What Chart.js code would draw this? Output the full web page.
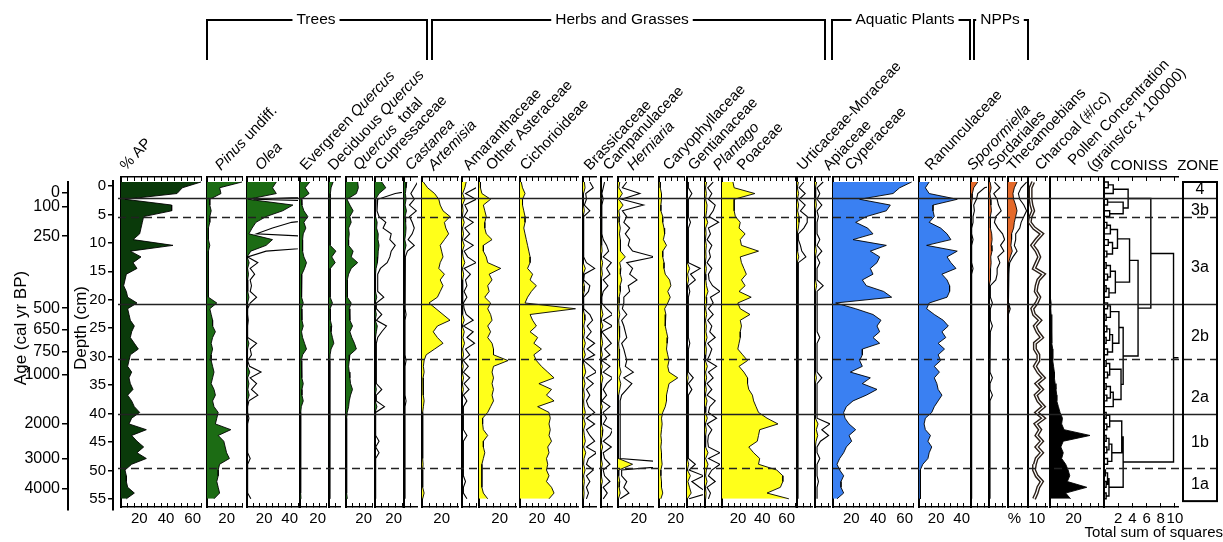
<!DOCTYPE html>
<html>
<head>
<meta charset="utf-8">
<title>Pollen diagram</title>
<script src="https://cdn.jsdelivr.net/npm/chart.js@4.4.0/dist/chart.umd.min.js"></script>
<style>
  body { margin: 0; background: #fff; }
  #wrap { position: relative; width: 1223px; height: 542px; overflow: hidden; background: #fff; }
  #wrap canvas { position: absolute; }
</style>
</head>
<body>
<div id="wrap"></div>
<script>
// sample depths (cm)
const depths = [0,1,2,3,4,5,6,7,8,9,10,11,12,13,14,15,16,17,18,19,20,21,22,23,24,25,26,27,28,29,
  30,31,32,33,34,35,36,37,38,39,40,41,42,43,44,45,46,47,48,49,50,51,52,53,54,55];

// percentages, one value per depth
const apPct = [60,46,42,3,38,38,17,16,15,14, 9,39,7,15,9,12,4,3,2,4, 5,12,5,6,7,10,8,7,10,13,
  7,6,5,8,6,7,9,5,8,10, 14,8,6,19,8,12,17,12,19,8, 3,4,4,5,10,4];
const pinus = [25,9,10,2,2,3,2,2,1,1, 1,2,1,1,1,1,1,1,1,1, 1,7,2,3,4,4,6,4,3,4,
  3,3,4,5,4,3,5,6,4,5, 8,7,6,17,8,12,13,14,16,9, 8,8,7,8,9,5];
const olea = [23,20,23,1,36,28,15,7,4,1.5, 20,15,3,0.1,1.7,0.5,1.2,0.5,0.7,0.5, 1.5,0.5,0.1,0.1,0.2,0.1,0.1,0.1,1.5,0.5,
  0.7,0.1,0.4,2.2,0.5,1.5,0.7,1.7,0.3,0.1, 0.1,0.3,0.1,0.1,0.1,0.1,0.1,0.1,0.5,0.1, 0.1,0.1,0.1,0.1,0.1,0.6];
const evQuercus = [7.5,4,7,1,1.5,3,6,3,4.5,2.5, 2,2,2,3,5,3.5,1.5,1.5,1.2,1, 1.2,2.5,1.2,1.5,1.5,2.5,1.2,2,3.5,5,
  2,1,1.2,1.5,1.5,2.5,1.5,1.5,2.5,1, 0.6,0.5,0.5,0.5,0.5,0.5,0.5,0.5,0.5,0.5, 0.5,0.5,0.5,0.6,0.5,0.8];
const decQuercus = [3,1.5,1,1.2,0.8,0.8,0.8,0.8,0.8,0.8, 0.8,0.8,5,2,4.5,1,0.8,0.8,0.8,0.8, 1,2.5,0.8,0.8,1.2,2,1.5,2.5,3.5,1.5,
  0.8,0.7,0.7,0.7,0.7,0.7,0.7,0.7,0.7,0.7, 0.5,0.5,0.5,0.5,0.5,0.5,0.5,0.5,0.5,0.5, 0.5,0.5,0.5,0.5,0.5,0.5];
const quercusTot = [9,9.5,8,0.8,3,5.5,3,4,2,2.5, 2,2,5.5,4,9,4,2,1,1,1, 1.2,4,2.5,3,3,5,3,4.5,6.5,8,
  3,2.5,2,2.5,3,3.5,5,3.5,2.5,2, 1,0.5,0.5,0.5,0.5,0.5,0.5,0.5,0.5,0.5, 0.5,0.5,0.5,0.5,0.5,1];
const cupress = [5,8,3,0.4,0.3,0.3,0.6,1.6,1.2,2.4, 2.2,3,2.4,2.2,1.8,0.8,0.4,0.4,0.4,0.4, 1.3,0.2,0.2,1,0.2,1.7,1,0.4,0.2,0.2,
  0.2,0.2,0.2,0.2,0.2,0.2,1,0.2,0.2,1.4, 0.1,0.1,0.1,0.1,0.1,0.6,0.1,0.6,0.1,0.1, 0.1,0.1,0.1,0.1,0.1,0.1];
const castanea = [2,1.5,1,1.5,0.8,1.8,0.8,1.2,1.5,1.2, 0.6,1.5,0.5,0.2,0.2,0.15,0.15,0.2,0.15,0.15, 0.2,0.15,0.15,0.3,0.15,0.15,0.15,0.15,0.15,0.15,
  0.15,0.3,0.15,0.15,0.15,0.15,0.15,0.15,0.3,0.15, 0.15,0.15,0.15,0.15,0.15,0.15,0.15,0.15,0.15,0.15, 0.15,0.15,0.15,0.15,0.15,0.15];
const artemisia = [1,4,9,12,13,15,20,16,17,19, 16,13,14,15,13,12,16,13,15,13, 11,5,10,15,20,11,8,11,15,9,
  3,1.5,1,1.5,0.8,1,0.8,1,1.5,1, 0.5,0.5,0.5,0.5,0.5,0.5,0.5,0.5,0.5,0.8, 0.5,0.5,0.5,0.5,1.5,0.5];
const amaranth = [3,2,0.5,2,0.4,0.8,0.3,1.6,0.4,1.1, 0.3,1.6,0.3,0.8,2,0.3,1.2,0.5,0.7,0.3, 0.7,0.2,0.3,0.6,1.6,0.2,1.6,0.7,1.8,0.5,
  1.1,0.2,0.9,0.2,1.1,0.3,1,0.2,0.7,0.2, 0.2,0.2,0.2,0.2,0.7,0.2,0.2,0.2,0.2,0.2, 0.2,0.2,0.5,0.2,0.2,0.7];
const otherAst = [1,1,2,8,3,4,5,4,4,5, 9,3,3,5,6,15,7,9,6,7, 4,8,6,8,9,6,8,6,9,10,
  10,20,10,9,10,9,10,9,10,8, 6,2.5,2.5,3,6,3,3,4,3,2, 2,2,2,2,3,6];
const cichor = [1,2,4,2,2,3,4,4,3,4, 5,6,7,8,8,6,10,8,13,9, 6,4,44,8,10,13,8,14,11,17,
  11,13,17,22,27,15,25,21,27,14, 23,24,23,24,23,25,22,23,21,22, 21,23,21,25,27,23];
const brassic = [1,1.5,0.4,0.5,0.2,1,0.1,0.1,0.1,0.1, 0.1,0.1,0.1,0.1,0.5,1.7,0.2,0.1,1,0.8, 0.1,0.1,0.1,1,1.4,0.6,1.2,0.5,1.7,0.6,
  1.7,0.1,1.1,2,0.5,1.5,0.5,1,0.5,0.8, 1.7,0.5,1.7,0.5,1,1.7,0.5,2,0.8,0.5, 1.5,0.5,1,0.5,0.8,0.5];
const campan = [0.6,0.4,0.2,0.4,0.2,0.2,0.2,0.2,0.2,0.2, 0.4,0.9,1.2,0.4,1.6,0.9,1.4,0.4,1.1,0.4, 0.2,0.2,0.9,1.8,0.4,1.8,0.2,0.9,1.6,0.6,
  1.4,0.2,1.4,0.4,1.8,0.9,0.4,0.9,0.2,1.4, 0.4,0.9,0.4,1.8,1.4,0.4,1.6,0.4,0.6,1.4, 0.4,0.6,1.4,0.4,1,0.4];
const herniaria = [1.2,0.6,3,0.5,3.5,0.6,1.2,0.8,1.6,1, 1.6,1.4,2,5,1.2,2,1.6,2.6,1.4,1.6, 0.8,0.8,0.6,1.2,0.5,0.8,1,1.2,0.5,0.8,
  1,1.2,1,2.1,0.8,1.9,1.2,0.5,0.3,0.3, 0.3,0.3,0.3,0.3,0.3,0.3,0.3,0.3,0.3,10, 0.5,0.5,1.2,0.8,1.5,0.3];
const caryo = [1,1,2,2,1.5,1.5,3,3,4,4.5, 3.5,6,3,3,4,4,5,8.5,9.5,7, 9,7,4.5,5.5,5,5,6,7,6.5,6,
  7,8,7,8,15,8,7,6,6,5, 3,2,2.5,2,1.5,2,1.5,2,2,2.5, 1.5,1.5,2,2,3,1.5];
const gentian = [0.2,0.2,0.7,0.2,0.2,0.2,0.2,0.5,0.2,0.2, 0.2,0.2,0.2,0.2,0.2,1.9,0.5,1.2,0.2,0.4, 0.2,0.2,0.2,0.2,0.2,0.2,0.2,0.2,0.4,0.2,
  0.2,0.2,0.2,0.2,0.9,0.2,0.7,0.2,0.2,0.2, 0.2,0.2,0.2,0.2,0.2,0.2,0.2,0.2,0.2,1.2, 0.3,2.4,0.7,1.8,3,0.3];
const plantago = [1.2,0.4,1,0.5,1.5,1.2,0.6,2,0.5,0.8, 0.3,1,0.6,0.8,0.3,1,0.5,0.6,1.1,2.2, 0.8,1.2,0.5,1.2,0.4,1,0.7,1.5,0.4,1,
  0.7,0.3,1.7,0.5,1.2,0.3,1,0.3,1.5,0.7, 0.5,1.7,0.3,1,0.5,0.4,0.5,2.2,0.5,2.2, 1,0.5,1.5,0.3,0.8,0.5];
const poaceae = [9,10,27,10,10,10,11,15,14,19, 15,16,30,15,16,18,20,16,19,14, 24,13,15,23,15,16,15,15,14,13,
  17,21,14,18,21,21,22,25,26,28, 30,37,46,31,30,29,22,26,31,30, 45,50,50,48,37,55];
const urtica = [1,0.3,1.2,0.3,1.2,0.5,1.5,1.5,1,0.2, 0.2,0.5,0.7,1.3,0.2,0.15,0.15,0.15,0.15,0.15, 0.15,0.15,0.15,0.15,0.15,0.15,0.15,0.15,0.15,0.15,
  0.15,0.15,0.15,0.15,0.15,0.15,0.15,0.15,0.15,0.15, 0.15,0.15,0.15,0.15,0.15,0.15,0.15,0.15,0.15,0.15, 0.15,0.15,0.15,0.15,0.15,0.15];
const apiaceae = [1.2,0.3,0.7,0.3,1,0.3,0.5,0.3,0.3,0.3, 0.7,0.3,1,0.3,0.7,0.3,0.3,0.3,1.2,0.3, 0.3,0.4,0.3,0.3,0.3,0.3,0.3,0.7,0.3,0.3,
  0.3,0.3,0.3,0.3,1,0.3,0.3,0.3,0.3,0.3, 0.3,0.3,2.2,1,2,0.8,0.3,0.3,0.7,0.3, 0.3,0.3,0.5,0.3,0.3,0.3];
const cyper = [59,50,45,20,43,40,25,17,26,30, 15,40,28,35,33,28,30,22,25,38, 44,2,17,30,36,33,35,30,35,22,
  22,20,22,13,28,22,33,25,15,10, 8,9,12,17,12,14,10,8,5,3, 5,8,6,6,8,3];
const ranunc = [8,5,8,30,11,11,12,8,17,22, 25,6,30,22,25,29,18,22,24,24, 22,8,6,12,19,23,18,21,15,20,
  15,17,12,16,12,14,15,18,15,12, 10,5,4,5,9,7,10,8,7,3, 1,1,1,1,1,1.5];
const sporor = [5,2,1,0.8,0.4,0.5,0.3,0.3,0.1,0.1, 0.3,0.1,0.1,0.1,0.1,0.3,0.1,0.1,0.1,0.1, 0.1,0.1,0.1,0.1,0.1,0.1,0.1,0.1,0.1,0.1,
  0.1,0.1,0.1,0.1,0.1,0.1,0.1,0.1,0.1,0.1, 0.1,0.1,0.1,0.1,0.1,0.1,0.1,0.1,0.1,0.1, 0.1,0.1,0.1,0.1,0.1,0.1];
const sordar = [0.8,1.6,0.7,1.2,1.4,1.8,1,0.8,1.3,2, 2.3,1.7,2.2,1.3,1.6,1.2,1.2,1,0.2,0.2, 0.2,0.5,0.2,0.2,0.2,0.5,0.2,0.15,0.15,0.15,
  0.15,0.15,0.15,0.15,0.5,0.15,0.15,0.5,0.15,0.15, 0.15,0.15,0.15,0.15,0.15,0.15,0.15,0.15,0.15,0.15, 0.15,0.15,0.15,0.15,0.15,0.15];
const thecam = [7,5,4,4.5,6,7,6,5,4.5,3, 3,2.5,3.5,2,0.8,0.6,0.5,0.3,0.3,0.3, 0.3,0.5,1,0.3,0.5,0.3,0.2,0.2,0.2,0.2,
  0.2,0.2,0.5,0.2,0.2,0.2,0.2,0.2,0.2,0.2, 0.2,0.2,0.2,0.2,0.2,0.2,0.2,0.2,0.2,0.2, 0.2,0.2,0.2,0.2,0.2,0.2];
const charcoal = [3,1.5,1.5,1.5,2,3,1.5,1,3.5,8, 5,2.5,5,6.5,5,3.5,9,6,5,4.5, 6.5,5,2.5,3.5,7,4,5.5,8,4,4,
  6,6,4,6,9,5,8,4.5,6,9, 5,9,4.5,7,5,8,5,8,5,4, 3.5,5,8,6,5,3.5];
const pollenConc = [0.3,0.3,0.3,0.3,0.5,0.5,0.5,0.5,0.5,0.5, 0.5,0.5,0.5,0.5,0.5,0.5,0.5,0.5,0.5,0.5, 0.5,1,0.8,1,1,1.5,1.5,1.5,1.5,2,
  2,2,2.5,3,3,3.5,4,4.5,4.5,5.5, 6.5,8,7.5,9,25,8.5,7,8.5,7.5,10, 11.5,12.5,11,23,10,13];

// CONISS brackets: [depth A, height A, depth B, height B, merge height]
const conissBrackets = [
  [0,0,1,0,0.6], [0.5,0.6,2,0,1.3],
  [3,0,4,0,0.5], [5,0,6,0,0.8], [3.5,0.5,5.5,0.8,2.7], [1.25,1.3,4.5,2.7,3.4],
  [7,0,8,0,0.4], [7.5,0.4,9,0,0.9], [10,0,11,0,0.6], [12,0,13,0,0.4], [10.5,0.6,12.5,0.4,1.2],
  [8.25,0.9,11.5,1.2,1.9], [14,0,15,0,0.3], [16,0,17,0,0.5], [14.5,0.3,16.5,0.5,0.9],
  [18,0,19,0,0.3], [18.5,0.3,20,0,0.7], [15.5,0.9,19.25,0.7,1.6], [9.875,1.9,17.375,1.6,3.6],
  [21,0,22,0,0.5], [23,0,24,0,0.3], [21.5,0.5,23.5,0.3,0.9], [25,0,26,0,0.4], [27,0,28,0,0.3],
  [25.5,0.4,27.5,0.3,0.8], [29,0,30,0,0.5], [26.5,0.8,29.5,0.5,1.2], [22.5,0.9,28,1.2,2.1],
  [31,0,32,0,0.3], [33,0,34,0,0.5], [31.5,0.3,33.5,0.5,0.8], [35,0,36,0,0.3], [37,0,38,0,0.4],
  [35.5,0.3,37.5,0.4,0.9], [36.5,0.9,39,0,1.3], [32.5,0.8,37.75,1.3,2.4], [25.25,2.1,35.125,2.4,2.7],
  [13.6,3.6,30.2,2.7,4.8], [2.875,3.4,21.9,4.8,6.6],
  [40,0,41,0,0.3], [42,0,43,0,0.4], [40.5,0.3,42.5,0.4,0.8], [44,0,45,0,0.3], [46,0,47,0,0.4],
  [44.5,0.3,46.5,0.4,0.7], [48,0,49,0,0.5], [45.5,0.7,48.5,0.5,1.1], [41.5,0.8,47,1.1,2.5],
  [50,0,51,0,0.2], [52,0,53,0,0.3], [50.5,0.2,52.5,0.3,0.5], [54,0,55,0,0.3], [51.5,0.5,54.5,0.3,0.7],
  [44.25,2.5,53,0.7,2.7], [12.4,6.6,48.6,2.7,9.8]
];
const conissRoot = [30.5, 9.8, 10.6];

// axes and zones
const depthTicks = [0,5,10,15,20,25,30,35,40,45,50,55];
const ageTickDepths = [1.86,4.3,9.4,21.9,25.7,29.5,33.5,42.0,48.1,53.2];
const ageLabels = ['0','100','250','500','650','750','1000','2000','3000','4000'];
const zoneBounds = [2.7,6.1,21.2,30.7,40.3,49.7];
const zoneDashed = [false,true,false,true,false,true];
const zoneNames = ['4','3b','3a','2b','2a','1b','1a'];
const zoneLabelDepths = [1.4,5.0,14.9,26.9,37.5,45.3,52.6];
const zoneBottom = 55.4;
const lab20 = [20], lab2040 = [20,40], lab204060 = [20,40,60], lab10 = [10];
const conissLabels = [2,4,6,8,10];

const FONT = '"Liberation Sans", Arial, Helvetica, sans-serif';
const C_AP = '#0a3a0a', C_TREE = '#1c6c14', C_HERB = '#ffff1a', C_AQUA = '#3a80f2', C_NPP = '#e4692a', C_CHAR = '#2a1e16';
Chart.defaults.font.family = FONT;
Chart.defaults.color = '#000';

const panels = [
  {name:'% AP', nx:126, L:121, R:201, max:60, values:apPct, color:C_AP, labels:lab204060},
  {name:'_Pinus_ undiff.', nx:221, L:207, R:242, max:25, values:pinus, color:C_TREE, labels:lab20},
  {name:'_Olea_', nx:261, L:247, R:298, max:40, values:olea, color:C_TREE, labels:lab2040, exag:5},
  {name:'Evergreen _Quercus_', nx:306, L:300, R:326, max:20, values:evQuercus, color:C_TREE, labels:lab20},
  {name:'Deciduous _Quercus_', nx:334, L:329, R:340, max:8, values:decQuercus, color:C_TREE, labels:[]},
  {name:'_Quercus_  total', nx:359, L:346, R:372, max:20, values:quercusTot, color:C_TREE, labels:lab20},
  {name:'Cupressaceae', nx:381, L:375, R:402, max:20, values:cupress, color:C_TREE, labels:lab20, exag:5},
  {name:'_Castanea_', nx:411, L:404, R:417, max:9.5, values:castanea, color:C_TREE, labels:[], exag:5},
  {name:'_Artemisia_', nx:434, L:422, R:458, max:25.7, values:artemisia, color:C_HERB, labels:lab20},
  {name:'Amaranthaceae', nx:469, L:462, R:476, max:10, values:amaranth, color:C_HERB, labels:[], exag:5},
  {name:'Other Asteraceae', nx:492, L:479, R:516, max:25.5, values:otherAst, color:C_HERB, labels:lab20},
  {name:'Cichorioideae', nx:526, L:520, R:578, max:46, values:cichor, color:C_HERB, labels:lab2040},
  {name:'Brassicaceae', nx:590, L:583, R:596, max:9.5, values:brassic, color:C_HERB, labels:[], exag:5},
  {name:'Campanulaceae', nx:609, L:600.5, R:612, max:8.5, values:campan, color:C_HERB, labels:[], exag:5},
  {name:'_Herniaria_', nx:633, L:618, R:653, max:24, values:herniaria, color:C_HERB, labels:lab20, exag:5},
  {name:'Caryophyllaceae', nx:669, L:659, R:684, max:20, values:caryo, color:C_HERB, labels:lab20},
  {name:'Gentianaceae', nx:694, L:687, R:703, max:11.5, values:gentian, color:C_HERB, labels:[], exag:5},
  {name:'_Plantago_', nx:719, L:705, R:720, max:11, values:plantago, color:C_HERB, labels:[], exag:5},
  {name:'Poaceae', nx:743, L:722, R:795, max:60, values:poaceae, color:C_HERB, labels:lab204060},
  {name:'Urticaceae-Moraceae', nx:803, L:797, R:812, max:11, values:urtica, color:C_HERB, labels:[], exag:5},
  {name:'Apiaceae', nx:829, L:815, R:830, max:11, values:apiaceae, color:C_HERB, labels:[], exag:5},
  {name:'Cyperaceae', nx:851, L:833, R:913, max:60, values:cyper, color:C_AQUA, labels:lab204060},
  {name:'Ranunculaceae', nx:931, L:919, R:970, max:40, values:ranunc, color:C_AQUA, labels:lab2040},
  {name:'_Sporormiella_', nx:973, L:971, R:987, max:11.8, values:sporor, color:C_NPP, labels:[], exag:5},
  {name:'Sordariales', nx:994, L:989, R:1005, max:11.8, values:sordar, color:C_NPP, labels:[], exag:5},
  {name:'Thecamoebians', nx:1013, L:1007.5, R:1027, max:14.3, values:thecam, color:C_NPP, labels:[5], labelText:'%', align:'center', exag:2},
  {name:'Charcoal (#/cc)', nx:1041, L:1028, R:1047, max:11, values:charcoal, color:C_CHAR, labels:lab10, line:true},
  {name:'Pollen Concentration', nx:1074, ny:166, L:1049.5, R:1102, max:32.4, values:pollenConc, color:'#000', labels:lab20}
];
const extraNames = [{name:'(grains/cc x 100000)', nx:1093, ny:172}];
const groups = [
  {name:'Trees', x0:207, x1:427, cx:316},
  {name:'Herbs and Grasses', x0:432, x1:825, cx:622},
  {name:'Aquatic Plants', x0:832, x1:970, cx:905},
  {name:'NPPs', x0:974, x1:1028, cx:1000}
];
const coniss = {L:1104, R:1178.5, max:10.5, step:2, labels:conissLabels, align:'center'};

const PANEL_MIN = -0.87, PANEL_MAX = 56.42;   // chart area 177..507 px
const FRAME_MAX = 56.94;                     // 182..510 px
const wrap = document.getElementById('wrap');

function addCanvas(x, y, w, h, z) {
  const c = document.createElement('canvas');
  c.width = w; c.height = h;
  c.style.left = x + 'px'; c.style.top = y + 'px';
  c.style.width = w + 'px'; c.style.height = h + 'px';
  c.style.zIndex = z;
  wrap.appendChild(c);
  return c;
}

function stepTicks(max, step) {
  const t = [];
  for (let v = 0; v <= max + 1e-9; v += step) t.push({value: +v.toFixed(6)});
  return t;
}

function xAxis(p, pos) {
  const bottom = pos === 'bottom';
  return {
    type: 'linear', position: pos, min: 0, max: p.max,
    afterBuildTicks: s => { s.ticks = stepTicks(p.max, p.step || 5); },
    afterFit: s => { s.height = bottom ? 35 : 0; s.paddingLeft = 0; s.paddingRight = 0; },
    ticks: {
      display: bottom, autoSkip: false, maxRotation: 0, minRotation: 0, padding: 7,
      align: p.align || 'end', font: {size: 15}, color: '#000',
      callback: v => p.labels.includes(v) ? (p.labelText || String(v)) : ''
    },
    grid: {display: true, drawOnChartArea: false, drawTicks: true, tickLength: -4, color: '#000', lineWidth: 1},
    border: {display: true, color: '#000', width: 1.5}
  };
}

function baseOptions(p, left, width) {
  return {
    responsive: false, animation: false, events: [], devicePixelRatio: 1,
    layout: {padding: {left: p.L - left, right: width - (p.R - left), top: 7, bottom: 0}},
    plugins: {legend: {display: false}, tooltip: {enabled: false}},
    scales: {
      x: xAxis(p, 'bottom'),
      xt: xAxis(p, 'top'),
      y: {
        type: 'linear', reverse: true, min: PANEL_MIN, max: PANEL_MAX,
        ticks: {display: false}, grid: {display: false},
        border: {display: true, color: '#000', width: 2},
        afterFit: s => { s.width = 0; }
      }
    }
  };
}

function makePanel(p) {
  const left = Math.floor(p.L) - 24;
  const width = Math.ceil(p.R - left) + 16;
  const cv = addCanvas(left, 170, width, 372, 2);
  const pts = k => p.values.map((v, i) => ({x: v * k, y: depths[i]}));
  let datasets;
  if (p.line) {
    datasets = [
      {data: pts(1), borderColor: '#fff', borderWidth: 1.2, fill: false, order: 0},
      {data: pts(1), borderColor: p.color, borderWidth: 4, fill: false, order: 1}
    ];
  } else {
    datasets = [{data: pts(1), fill: 'origin', backgroundColor: p.color, borderColor: '#000', borderWidth: 0.9, order: 1}];
    if (p.exag) datasets.push({data: pts(p.exag), fill: false, borderColor: '#000', borderWidth: 1.1, order: 0});
  }
  datasets.forEach(d => { d.pointRadius = 0; d.tension = 0; });
  const opts = baseOptions(p, left, width);
  opts.indexAxis = 'y';
  new Chart(cv, {type: 'line', data: {datasets}, options: opts});
}

function makeConiss() {
  const p = coniss;
  const left = Math.floor(p.L) - 24;
  const width = Math.ceil(p.R - left) + 16;
  const cv = addCanvas(left, 170, width, 372, 2);
  const pts = [];
  conissBrackets.forEach(([dA, hA, dB, hB, h]) => {
    pts.push({x: hA, y: dA}, {x: h, y: dA}, {x: h, y: dB}, {x: hB, y: dB}, {x: null, y: null});
  });
  pts.push({x: conissRoot[1], y: conissRoot[0]}, {x: conissRoot[2], y: conissRoot[0]});
  new Chart(cv, {
    type: 'scatter',
    data: {datasets: [{data: pts, showLine: true, spanGaps: false, borderColor: '#000', borderWidth: 1.4, pointRadius: 0}]},
    options: baseOptions(p, left, width)
  });
}

function axisChart(width, axisWidth, top, min, ticksDepth, labelOf, fontSize, tickLen) {
  const cv = addCanvas(0, 170, width, 372, 3);
  new Chart(cv, {
    type: 'scatter',
    data: {datasets: []},
    options: {
      responsive: false, animation: false, events: [], devicePixelRatio: 1,
      layout: {padding: {top: top, bottom: 32, left: 0, right: 0}},
      plugins: {legend: {display: false}, tooltip: {enabled: false}},
      scales: {
        x: {display: false},
        y: {
          type: 'linear', position: 'left', reverse: true, min: min, max: FRAME_MAX,
          afterBuildTicks: s => { s.ticks = ticksDepth.map(v => ({value: v})); },
          afterFit: s => { s.width = axisWidth; },
          ticks: {font: {size: fontSize}, color: '#000', padding: 2, autoSkip: false, callback: labelOf},
          grid: {drawOnChartArea: false, tickLength: tickLen, color: '#000', lineWidth: 1.5},
          border: {display: true, color: '#000', width: 2}
        }
      }
    }
  });
}

function drawRich(ctx, text, size) {
  let x = 0;
  text.split('_').forEach((seg, i) => {
    ctx.font = (i % 2 ? 'italic ' : '') + size + 'px ' + FONT;
    ctx.fillText(seg, x, 0);
    x += ctx.measureText(seg).width;
  });
}

const framePlugin = {
  id: 'frame',
  afterDraw(chart) {
    const ctx = chart.ctx, ys = chart.scales.y;
    const LINE_X0 = 118, ZONE_X0 = 1183, ZONE_X1 = 1217;
    ctx.save();
    ctx.fillStyle = '#000';
    // zone boundaries across the diagram
    ctx.strokeStyle = '#222'; ctx.lineWidth = 1.3;
    zoneBounds.forEach((d, i) => {
      ctx.setLineDash(zoneDashed[i] ? [8, 5] : []);
      const py = Math.round(ys.getPixelForValue(d)) + 0.5;
      ctx.beginPath(); ctx.moveTo(LINE_X0, py); ctx.lineTo(ZONE_X1, py); ctx.stroke();
    });
    ctx.setLineDash([]);
    // zone box
    ctx.strokeStyle = '#000'; ctx.lineWidth = 2;
    const zt = ys.getPixelForValue(0), zb = ys.getPixelForValue(zoneBottom);
    ctx.strokeRect(ZONE_X0, zt, ZONE_X1 - ZONE_X0, zb - zt);
    ctx.font = '16px ' + FONT; ctx.textAlign = 'center'; ctx.textBaseline = 'middle';
    zoneNames.forEach((n, i) => ctx.fillText(n, (ZONE_X0 + ZONE_X1) / 2, ys.getPixelForValue(zoneLabelDepths[i])));
    // headers
    ctx.font = '15px ' + FONT;
    ctx.fillText('CONISS', 1139, 166);
    ctx.fillText('ZONE', 1198, 166);
    ctx.textAlign = 'right';
    ctx.fillText('Total sum of squares', 1223, 533);
    // group brackets
    ctx.font = '15.5px ' + FONT;
    ctx.lineWidth = 2; ctx.textAlign = 'center';
    groups.forEach(g => {
      const w = ctx.measureText(g.name).width;
      ctx.fillText(g.name, g.cx, 20);
      ctx.beginPath();
      ctx.moveTo(g.x0, 60); ctx.lineTo(g.x0, 20); ctx.lineTo(g.cx - w / 2 - 4, 20);
      ctx.moveTo(g.cx + w / 2 + 4, 20); ctx.lineTo(g.x1, 20); ctx.lineTo(g.x1, 60);
      ctx.stroke();
    });
    // axis titles
    ctx.font = '17px ' + FONT;
    [['Age (cal yr BP)', 21.5], ['Depth (cm)', 81.5]].forEach(([t, x]) => {
      ctx.save(); ctx.translate(x, 328); ctx.rotate(-Math.PI / 2);
      ctx.fillText(t, 0, 0); ctx.restore();
    });
    // panel names
    ctx.textAlign = 'left'; ctx.textBaseline = 'alphabetic';
    panels.concat(extraNames).forEach(p => {
      ctx.save(); ctx.translate(p.nx, p.ny || 171); ctx.rotate(-46.5 * Math.PI / 180);
      drawRich(ctx, p.name, 15); ctx.restore();
    });
    ctx.restore();
  }
};

// axes on the left
axisChart(72, 68, 12, 0, ageTickDepths, (v, i) => ageLabels[i], 16, 6);
axisChart(118, 113, 7, PANEL_MIN, depthTicks, v => String(v), 15, 5);

panels.forEach(makePanel);
makeConiss();

// overlay frame: zone lines, labels, brackets
const frame = addCanvas(0, 0, 1223, 542, 10);
frame.style.pointerEvents = 'none';
new Chart(frame, {
  type: 'scatter',
  data: {datasets: []},
  options: {
    responsive: false, animation: false, events: [], devicePixelRatio: 1,
    layout: {padding: {top: 182, bottom: 32, left: 0, right: 0}},
    plugins: {legend: {display: false}, tooltip: {enabled: false}},
    scales: {
      x: {display: false, min: 0, max: 1},
      y: {display: false, reverse: true, min: 0, max: FRAME_MAX}
    }
  },
  plugins: [framePlugin]
});
</script>
</body>
</html>
